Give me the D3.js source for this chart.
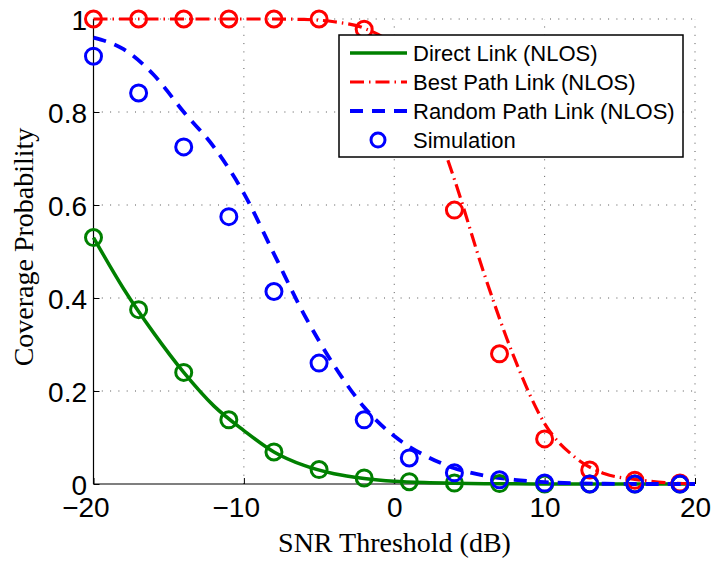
<!DOCTYPE html>
<html>
<head>
<meta charset="utf-8">
<script src="https://cdn.jsdelivr.net/npm/d3@7/dist/d3.min.js"></script>
<style>
  html, body { margin: 0; padding: 0; background: #fff; }
  svg { display: block; }
</style>
</head>
<body>
<svg id="chart" width="712" height="561"></svg>
<script>
// ---- data ----------------------------------------------------------
// SNR thresholds (dB) at which the Monte-Carlo simulation was run
const simSnr = [-20, -17, -14, -11, -8, -5, -2, 1, 4, 7, 10, 13, 16, 19];
const simDirect = [0.53, 0.375, 0.24, 0.138, 0.069, 0.031, 0.013, 0.005, 0.002, 0.001, 0, 0, 0, 0];
const simBest   = [1.0, 1.0, 1.0, 1.0, 1.0, 1.0, 0.978, 0.87, 0.589, 0.28, 0.097, 0.03, 0.008, 0.002];
const simRandom = [0.92, 0.841, 0.725, 0.575, 0.414, 0.26, 0.138, 0.056, 0.024, 0.009, 0.002, 0, 0, 0];

// analytical curves, sampled every 2 dB
const curveSnr = [-20, -18, -16, -14, -12, -10, -8, -6, -4, -2, 0, 2, 4, 6, 8, 10, 12, 14, 16, 18, 20];
const anaDirect = [0.53, 0.42, 0.325, 0.24, 0.168, 0.115, 0.069, 0.04, 0.022, 0.012, 0.006, 0.003, 0.0015, 0.0007, 0.0003, 0.0001, 0, 0, 0, 0, 0];
const anaBest   = [1, 1, 1, 1, 1, 1, 1, 0.999, 0.994, 0.98, 0.94, 0.83, 0.655, 0.45, 0.27, 0.13, 0.058, 0.022, 0.01, 0.003, 0.0005];
const anaRandom = [0.96, 0.935, 0.88, 0.80, 0.725, 0.625, 0.495, 0.365, 0.255, 0.165, 0.103, 0.062, 0.034, 0.018, 0.009, 0.004, 0.0015, 0.0005, 0, 0, 0];

const xTickValues = [-20, -10, 0, 10, 20];
const xTickLabels = ["\u221220", "\u221210", "0", "10", "20"];
const yTickValues = [0, 0.2, 0.4, 0.6, 0.8, 1];
const yTickLabels = ["0", "0.2", "0.4", "0.6", "0.8", "1"];

const legendLabels = ["Direct Link (NLOS)", "Best Path Link (NLOS)", "Random Path Link (NLOS)", "Simulation"];

// ---- styles --------------------------------------------------------
const GREEN = "#008000", RED = "#ff0000", BLUE = "#0000ff";
const styles = {
  direct: { color: GREEN, dash: null, width: 3.5 },
  best:   { color: RED,   dash: "14,5,1.5,5", width: 3.2 },
  random: { color: BLUE,  dash: "13,9", width: 3.8 }
};

// ---- layout --------------------------------------------------------
const svg = d3.select("#chart");
const x = d3.scaleLinear().domain([-20, 20]).range([93.5, 695]);
const y = d3.scaleLinear().domain([0, 1]).range([484, 19]);

const sansFont = "'Liberation Sans', Arial, Helvetica, sans-serif";
const serifFont = "'Liberation Serif', 'Times New Roman', serif";

// grid (dotted)
const grid = svg.append("g");
grid.selectAll("line.gx").data(xTickValues.filter(v => v > -20)).join("line")
  .attr("x1", d => x(d)).attr("x2", d => x(d))
  .attr("y1", y(0)).attr("y2", y(1))
  .attr("stroke", "#555").attr("stroke-width", 1)
  .attr("stroke-dasharray", "1,7.3");
grid.selectAll("line.gy").data(yTickValues.filter(v => v > 0)).join("line")
  .attr("x1", x(-20)).attr("x2", x(20))
  .attr("y1", d => y(d)).attr("y2", d => y(d))
  .attr("stroke", "#555").attr("stroke-width", 1)
  .attr("stroke-dasharray", "1,7.3");

// axes (ticks pointing inward)
const xAxis = svg.append("g").attr("transform", `translate(0,${y(0)})`)
  .call(d3.axisBottom(x).tickValues(xTickValues)
    .tickFormat((d, i) => xTickLabels[i]).tickSize(-6).tickPadding(0));
const yAxis = svg.append("g").attr("transform", `translate(${x(-20)},0)`)
  .call(d3.axisLeft(y).tickValues(yTickValues)
    .tickFormat((d, i) => yTickLabels[i]).tickSize(-6).tickPadding(6.5));

[xAxis, yAxis].forEach(g => {
  g.select(".domain").attr("stroke", "#000").attr("stroke-width", 1.2)
    .attr("d", null);
  g.selectAll(".tick line").attr("stroke", "#000").attr("stroke-width", 1);
  g.selectAll(".tick text").attr("font-family", sansFont)
    .attr("font-size", 28).attr("fill", "#000");
});
xAxis.select(".domain").remove();
yAxis.select(".domain").remove();
svg.append("line").attr("x1", x(-20)).attr("x2", x(20)).attr("y1", y(0)).attr("y2", y(0))
  .attr("stroke", "#000").attr("stroke-width", 1.2);
svg.append("line").attr("x1", x(-20)).attr("x2", x(-20)).attr("y1", y(0)).attr("y2", y(1))
  .attr("stroke", "#000").attr("stroke-width", 1.2);

// x labels: digits centred on the tick, minus sign hanging to the left
xAxis.selectAll(".tick text")
  .attr("y", 33).attr("dy", 0)
  .attr("dx", (d) => d < 0 ? "-0.29em" : 0);
yAxis.selectAll(".tick text").attr("dy", "0.38em");

// axis titles
svg.append("text")
  .attr("x", 394.5).attr("y", 552)
  .attr("text-anchor", "middle")
  .attr("font-family", serifFont).attr("font-size", 28).attr("fill", "#000")
  .text("SNR Threshold (dB)");
svg.append("text")
  .attr("transform", "translate(33,247) rotate(-90)")
  .attr("text-anchor", "middle")
  .attr("font-family", serifFont).attr("font-size", 28).attr("fill", "#000")
  .text("Coverage Probability");

// ---- analytical curves ---------------------------------------------
const line = d3.line()
  .x(d => x(d[0])).y(d => y(d[1]))
  .curve(d3.curveMonotoneX);

const curves = [
  { key: "direct", values: anaDirect },
  { key: "best", values: anaBest },
  { key: "random", values: anaRandom }
];
curves.forEach(c => {
  const s = styles[c.key];
  svg.append("path")
    .datum(curveSnr.map((v, i) => [v, c.values[i]]))
    .attr("d", line)
    .attr("fill", "none")
    .attr("stroke", s.color)
    .attr("stroke-width", s.width)
    .attr("stroke-dasharray", s.dash)
    .attr("stroke-linejoin", "round");
});

// ---- simulation markers --------------------------------------------
const sims = [
  { color: GREEN, values: simDirect },
  { color: RED, values: simBest },
  { color: BLUE, values: simRandom }
];
sims.forEach(s => {
  svg.append("g").selectAll("circle")
    .data(simSnr.map((v, i) => [v, s.values[i]]))
    .join("circle")
    .attr("cx", d => x(d[0])).attr("cy", d => y(d[1]))
    .attr("r", 8)
    .attr("fill", "none")
    .attr("stroke", s.color)
    .attr("stroke-width", 3);
});

// ---- legend --------------------------------------------------------
const legend = svg.append("g");
legend.append("rect")
  .attr("x", 339).attr("y", 35).attr("width", 344).attr("height", 122)
  .attr("fill", "#fff").attr("stroke", "#000").attr("stroke-width", 1.5);

const legendItems = [
  { kind: "line", style: styles.direct },
  { kind: "line", style: styles.best },
  { kind: "line", style: styles.random },
  { kind: "marker", color: BLUE }
];
legendItems.forEach((item, i) => {
  const base = 61 + i * 29;
  const cy = base - 8;
  if (item.kind === "line") {
    legend.append("line")
      .attr("x1", 350).attr("x2", 407).attr("y1", cy).attr("y2", cy)
      .attr("stroke", item.style.color)
      .attr("stroke-width", item.style.width)
      .attr("stroke-dasharray", item.style.dash);
  } else {
    legend.append("circle")
      .attr("cx", 378).attr("cy", cy).attr("r", 7)
      .attr("fill", "none").attr("stroke", item.color).attr("stroke-width", 3);
  }
  legend.append("text")
    .attr("x", 413).attr("y", base)
    .attr("font-family", sansFont).attr("font-size", 22).attr("fill", "#000")
    .text(legendLabels[i]);
});
</script>
</body>
</html>
